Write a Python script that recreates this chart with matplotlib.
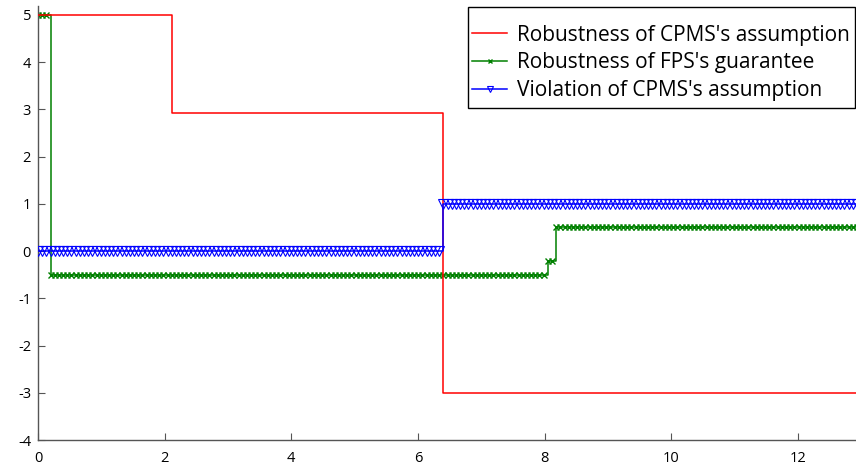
import numpy as np
import matplotlib
matplotlib.use('Agg')
import matplotlib.pyplot as plt
from matplotlib.patches import Rectangle

plt.rcParams['font.family'] = ['Open Sans', 'DejaVu Sans']
plt.rcParams['axes.unicode_minus'] = False

# sample time (s), one sample every 0.066
dt = 0.066
n_samples = 197

# run-length encoded signals: values and how many samples they hold
red_vals = [5, 2.93, -3]
red_counts = [32, 65, 100]
green_vals = [5, -0.5, -0.2, 0.5]
green_counts = [3, 119, 2, 73]
blue_vals = [0, 1]
blue_counts = [97, 100]

labels = ["Robustness of CPMS's assumption",
          "Robustness of FPS's guarantee",
          "Violation of CPMS's assumption"]

t = np.arange(n_samples) * dt
red = np.repeat(red_vals, red_counts)
green = np.repeat(green_vals, green_counts)
blue = np.repeat(blue_vals, blue_counts)

W, H = 856, 465
fig = plt.figure(figsize=(W/100, H/100), dpi=100)
ax = fig.add_axes([38/W, 25/H, 1 - 38/W, 434/H])

ax.plot(t, red, color='red', lw=1.1, drawstyle='steps-post', label=labels[0], zorder=3)
ax.plot(t, green, color=(0, 0.5, 0), lw=1.1, drawstyle='steps-post', marker='x',
        ms=4.5, mew=1.0, label=labels[1], zorder=2)
ax.plot(t, blue, color='blue', lw=1.1, drawstyle='steps-post', marker='v',
        ms=6.5, mew=0.8, mfc='none', label=labels[2], zorder=4)

ax.set_xlim(0, 12.92)
ax.set_ylim(-4, 5.19)
ax.set_xticks(range(0, 13, 2))
ax.set_yticks(range(-4, 6))
ax.spines['top'].set_visible(False)
ax.spines['right'].set_visible(False)
for s in ['left', 'bottom']:
    ax.spines[s].set_color('#555555')
    ax.spines[s].set_linewidth(1.0)
ax.tick_params(direction='in', length=5, color='#555555', labelsize=10.5, pad=5)
ax.tick_params(axis='x', pad=8)

# legend frame drawn by hand: tight left/right padding, roomy top/bottom
frame = Rectangle((468/W, 1 - 108/H), (855 - 468)/W, 101/H, transform=fig.transFigure,
                  facecolor='white', edgecolor='black', lw=1.0, zorder=2)
fig.add_artist(frame)
handles, labs = ax.get_legend_handles_labels()
leg = fig.legend(handles, labs, loc='upper left', bbox_to_anchor=(472/W, 1 - 24.5/H),
                 fontsize=15, frameon=False, handlelength=1.7, handletextpad=0.45,
                 borderpad=0, labelspacing=0.33, borderaxespad=0, markerscale=0.75)
leg.set_zorder(5)

fig.savefig('out.png', dpi=100)
